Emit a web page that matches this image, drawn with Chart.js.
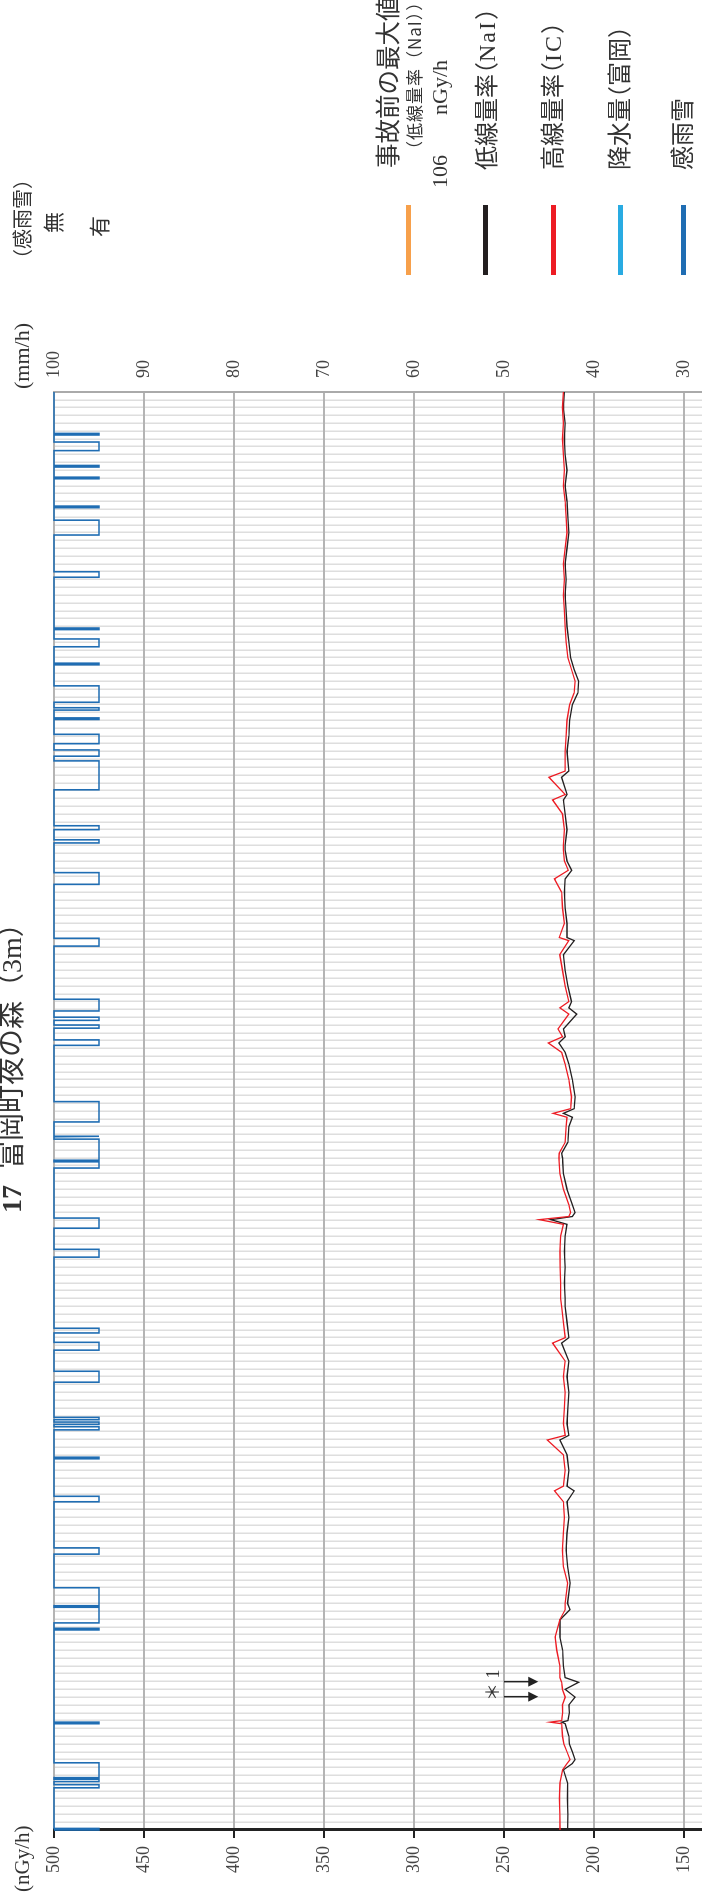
<!DOCTYPE html>
<html>
<head>
<meta charset="utf-8">
<script src="https://cdn.jsdelivr.net/npm/chart.js@4.4.1/dist/chart.umd.min.js"></script>
<style>
  html, body { margin: 0; padding: 0; width: 702px; height: 1901px; overflow: hidden; background: #fff; }
  /* the chart is drawn landscape and turned a quarter turn to the left */
  #wrap { position: absolute; left: 0; top: 0; width: 1901px; height: 1010px; transform-origin: 0 0; transform: translate(0, 1901px) rotate(-90deg); }
  #wrap canvas { position: absolute; left: 0; top: 0; }
  .t { position: absolute; white-space: nowrap; color: #333; line-height: 1; font-family: "Liberation Serif", "Noto Sans CJK JP", serif; font-feature-settings: "halt"; }
  .bar { position: absolute; width: 70px; height: 5px; }
  .sp { letter-spacing: 2px; }
</style>
</head>
<body>
<div id="wrap">
  <canvas id="chart" width="1901" height="1010" style="width:1901px;height:1010px"></canvas>

  <div class="t" style="left:688px;top:-2px;font-size:28px;"><b>17</b><span style="margin-left:16px">富岡町夜の森</span><span style="margin-left:14px">（3m）</span></div>

  <div class="t" style="left:9px;top:12px;font-size:21px;">(nGy/h)</div>
  <div class="t" style="left:1512px;top:11px;font-size:22px;">(mm/h)</div>
  <div class="t" style="left:1642px;top:13px;font-size:20px;">（感雨雪）</div>
  <div class="t" style="left:1668px;top:44px;font-size:21px;">無</div>
  <div class="t" style="left:1664px;top:90px;font-size:21px;">有</div>

  <div class="t" style="left:200px;top:484px;font-size:18px;">＊ 1</div>

  <div class="bar" style="left:1626px;top:406px;background:#f7a04b;"></div>
  <div class="bar" style="left:1626px;top:483px;background:#231f20;"></div>
  <div class="bar" style="left:1626px;top:551px;background:#ed1c24;"></div>
  <div class="bar" style="left:1626px;top:618px;background:#29abe2;"></div>
  <div class="bar" style="left:1626px;top:681px;background:#1f6db3;"></div>

  <div class="t" style="left:1733px;top:377px;font-size:24.5px;">事故前の最大値</div>
  <div class="t" style="left:1743px;top:405px;font-size:17px;letter-spacing:1px;font-family:'Noto Sans CJK JP',sans-serif;font-feature-settings:normal;">（低線量率（NaI））</div>
  <div class="t" style="left:1713px;top:429px;font-size:22px;">106</div>
  <div class="t" style="left:1786px;top:429px;font-size:22px;">nGy/h</div>
  <div class="t" style="left:1731px;top:475px;font-size:24px;">低線量率（<span class="sp">NaI</span>）</div>
  <div class="t" style="left:1731px;top:541px;font-size:24px;">高線量率（<span class="sp">IC</span>）</div>
  <div class="t" style="left:1731px;top:608px;font-size:24px;">降水量（富岡）</div>
  <div class="t" style="left:1731px;top:671px;font-size:24px;">感雨雪</div>
</div>

<script>
// time axis: days from the start of the period, one grid line a day
const lastDay = 184;

// dose rate (nGy/h)
const doseDays = [
  0, 2, 4, 6, 7.7, 8.5, 9, 10, 11, 12, 13.6, 13.8, 14, 15, 16, 17, 18, 18.9, 19.5, 21, 23, 24.7, 26.9, 28.2, 29, 31.6, 33.7, 35.8,
  38, 40, 42, 43.4, 44, 46, 48, 49.9, 50.5, 52, 54, 56, 58, 60, 62.3, 63, 65, 67,
  68, 70, 72, 74, 76, 77.5, 78.1, 78.5, 79, 80, 82, 84, 86, 86.6, 88, 90, 91.2, 91.7, 92.3, 93.8,
  96, 98, 99.5, 100.7, 101.5, 102.5, 104.4, 105.2, 106, 108, 110, 112, 113.8, 114.2, 116, 118, 120, 121.7, 122.8, 124, 125.4,
  126, 128, 130, 131.8, 132.5, 134.7, 135.5, 138, 140, 142, 144, 145.5, 147, 148.5, 150, 152, 154, 156, 158, 160,
  162, 164, 166, 168, 170, 172, 174, 176, 178, 180, 182, 184
];
const lowDose = [
  214.6, 214.5, 214.8, 214.7, 217, 212, 210.5, 212, 213.7, 214, 216, 218, 214.5, 213.7, 214, 210.5, 216, 208.6, 216, 217, 217.4, 218.9, 218.9, 213.3, 214.7, 213.3, 214.7, 215.5,
  215, 214, 215, 211, 215, 214, 215, 219, 214, 215, 214.5, 214, 215, 214, 218, 214, 215, 216,
  216, 216.5, 216, 216.5, 216, 215, 224, 212, 210.5, 212, 215, 217, 217.5, 218, 214.5, 214, 212, 217, 211, 210.5,
  212, 214, 216, 219.5, 216, 217, 209.6, 214, 212.5, 214.5, 216, 217, 211, 215, 215, 216, 216.5, 216, 212.4, 215, 216,
  216, 215, 216, 217, 215, 218, 214, 215, 214, 213.5, 212, 209, 208.5, 211, 213, 214, 215, 215.5, 216, 215.5,
  216, 215, 214, 214.5, 215, 216, 215, 216, 216.5, 216, 217, 216.5
];
const highDose = [
  218.9, 219, 219.2, 218.9, 217.5, 215, 213.3, 215, 216.7, 217.5, 218, 224.4, 218, 217.4, 217.5, 216, 217.5, 218, 219, 219, 220.7, 221.6, 219, 216, 216, 214.7, 217, 217.6,
  217, 216.5, 217, 222, 217, 216, 217, 226, 216, 217, 216.5, 216, 217, 216, 223, 216, 217, 218,
  218.5, 218.5, 218.8, 219, 218.5, 217, 230.4, 214, 213, 214, 217, 219, 219.5, 219.3, 216, 215.5, 215, 222.7, 213, 212.5,
  214, 216, 218, 225.4, 217.5, 220, 214, 219, 214, 216, 217.5, 219, 214, 219.3, 216.5, 217.5, 218, 222, 214.3, 216.5, 217,
  217, 216.5, 217.5, 223, 216, 225, 216, 216, 215.5, 215, 213.5, 211, 210.5, 212.5, 214.5, 215.5, 216, 216.5, 217, 216.5,
  217, 216, 215, 215.5, 216, 217, 216.5, 217, 217.5, 217, 217.5, 217
];
const preAccidentMax = 106;

// rain/snow sensor: periods (days) when it read "有"
const rainStart = [0, 5.4, 6.2, 6.7, 13.6, 25.6, 26.5, 28.7, 35.3, 42.0, 47.5, 51.2, 51.9, 52.5, 57.3, 61.4, 63.6,
  73.3, 77.0, 84.7, 85.7, 88.7, 90.6, 100.4, 102.6, 103.6, 104.8, 113.1, 121.0, 126.3, 128.0, 133.1, 137.4, 139.0,
  142.1, 143.3, 144.3, 149.1, 151.4, 153.6, 160.3, 165.7, 169.2, 172.9, 174.4, 176.5, 178.5];
const rainEnd = [0.2, 5.8, 6.5, 8.6, 13.8, 25.8, 28.5, 31.0, 36.1, 42.7, 47.7, 51.6, 52.2, 52.8, 58.7, 62.4, 64.2,
  74.3, 78.3, 85.5, 88.4, 88.8, 93.2, 101.1, 103.0, 104.0, 106.3, 114.1, 122.5, 126.7, 128.5, 136.8, 138.2, 140.2,
  142.3, 143.6, 146.4, 149.3, 152.4, 153.8, 161.0, 167.6, 169.4, 173.1, 174.6, 177.6, 178.7];
const rainOff = 100; // 無
const rainOn = 95;   // 有

// ＊1 arrows
const arrowDays = [17.06, 18.98];
const arrowFrom = 250;
const arrowTo = 231;

const lowPts = doseDays.map((d, i) => ({ x: d, y: lowDose[i] }));
const highPts = doseDays.map((d, i) => ({ x: d, y: highDose[i] }));
const rainPts = [{ x: 0, y: rainOff }];
rainStart.forEach((s, i) => {
  rainPts.push({ x: s, y: rainOff }, { x: s, y: rainOn }, { x: rainEnd[i], y: rainOn }, { x: rainEnd[i], y: rainOff });
});
rainPts.push({ x: lastDay, y: rainOff });

const arrowPlugin = {
  id: "arrows",
  afterDatasetsDraw(chart) {
    const { ctx, scales } = chart;
    ctx.save();
    ctx.strokeStyle = "#222";
    ctx.fillStyle = "#222";
    ctx.lineWidth = 1.5;
    arrowDays.forEach((d) => {
      const px = scales.x.getPixelForValue(d);
      const y0 = scales.y.getPixelForValue(arrowFrom);
      const y1 = scales.y.getPixelForValue(arrowTo);
      ctx.beginPath();
      ctx.moveTo(px, y0);
      ctx.lineTo(px, y1 - 9);
      ctx.stroke();
      ctx.beginPath();
      ctx.moveTo(px - 5, y1 - 10);
      ctx.lineTo(px + 5, y1 - 10);
      ctx.lineTo(px, y1);
      ctx.closePath();
      ctx.fill();
    });
    ctx.restore();
  },
};

const ctx = document.getElementById("chart").getContext("2d");

new Chart(ctx, {
  type: "line",
  data: {
    datasets: [
      { label: "感雨雪", data: rainPts, yAxisID: "yr", borderColor: "#1f6db3", borderWidth: 1.6, pointRadius: 0, clip: 6, order: 0 },
      { label: "高線量率(IC)", data: highPts, yAxisID: "y", borderColor: "#ed1c24", borderWidth: 1.3, pointRadius: 0, order: 1 },
      { label: "低線量率(NaI)", data: lowPts, yAxisID: "y", borderColor: "#231f20", borderWidth: 1.3, pointRadius: 0, order: 2 },
      {
        label: "事故前の最大値",
        data: [{ x: 0, y: preAccidentMax }, { x: lastDay, y: preAccidentMax }],
        yAxisID: "y",
        borderColor: "#f7a04b",
        borderWidth: 2,
        pointRadius: 0,
        order: 3,
      },
    ],
  },
  options: {
    responsive: false,
    animation: false,
    devicePixelRatio: 1,
    layout: { padding: { top: 54 } },
    elements: { line: { tension: 0 } },
    plugins: { legend: { display: false }, tooltip: { enabled: false } },
    scales: {
      x: {
        type: "linear",
        min: 0,
        max: lastDay,
        ticks: { display: false, stepSize: 1 },
        grid: { color: "#dedede", lineWidth: 1.5, drawTicks: false },
        border: { display: false },
        afterFit: (s) => { s.height = 56; },
      },
      y: {
        position: "left",
        min: 0,
        max: 500,
        ticks: { stepSize: 50, padding: 8, color: "#444", font: { family: "Liberation Serif", size: 18 } },
        grid: { color: "#b4b4b4", lineWidth: 2, tickLength: 8, tickColor: "#222", tickWidth: 2 },
        border: { color: "#222", width: 3 },
        afterFit: (s) => { s.width = 71; },
      },
      yr: {
        position: "right",
        min: 0,
        max: 100,
        ticks: { stepSize: 10, padding: 14, color: "#444", font: { family: "Liberation Serif", size: 18 } },
        grid: { drawOnChartArea: false, drawTicks: false },
        border: { color: "#aaa", width: 2 },
        afterFit: (s) => { s.width = 392; },
      },
    },
  },
  plugins: [arrowPlugin],
});
</script>
</body>
</html>
